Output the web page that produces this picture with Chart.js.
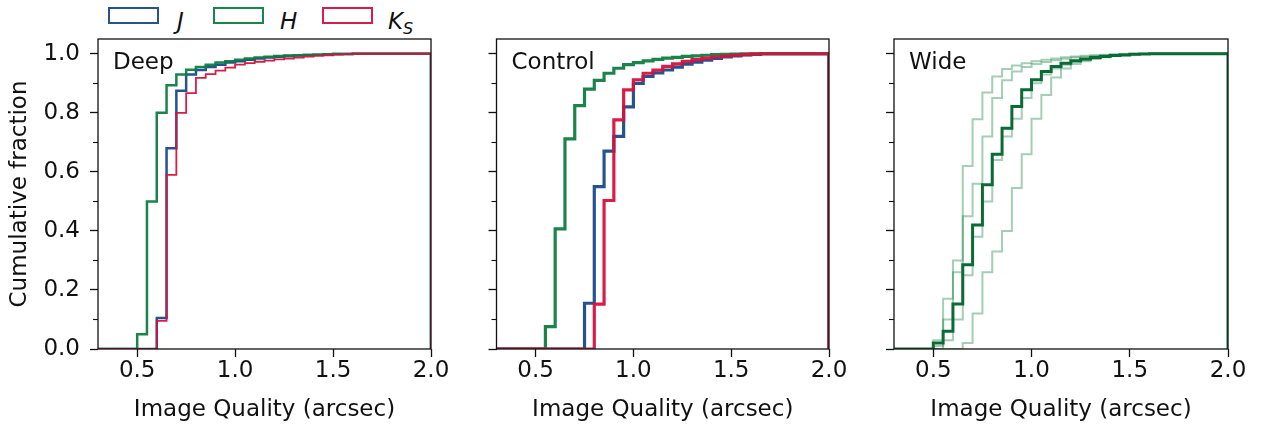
<!DOCTYPE html>
<html><head><meta charset="utf-8">
<script src="https://cdn.jsdelivr.net/npm/chart.js@4.4.0/dist/chart.umd.min.js"></script>
<style>
body{margin:0;width:1261px;height:425px;background:#fff;overflow:hidden;position:relative;font-family:"DejaVu Sans",sans-serif;color:#111}
.panel{position:absolute;top:0;height:425px}
.lbox{position:absolute;top:7px;width:47px;height:13px;border:2.5px solid}
.ltext{position:absolute;top:8px;font-size:23px;font-style:italic;line-height:26px}
.ltext sub{font-size:16px;vertical-align:-5px}
</style></head>
<body>
<div id="legend"></div>
<div class="panel" style="left:0;width:451px"><canvas id="c1" width="451" height="425"></canvas></div>
<div class="panel" style="left:451px;width:398px"><canvas id="c2" width="398" height="425"></canvas></div>
<div class="panel" style="left:849px;width:399px"><canvas id="c3" width="399" height="425"></canvas></div>
<script>
// ---- data ----
const binEdges = [0.30,0.35,0.40,0.45,0.50,0.55,0.60,0.65,0.70,0.75,0.80,0.85,0.90,0.95,1.00,1.05,1.10,1.15,1.20,1.25,1.30,1.35,1.40,1.45,1.50,1.55,1.60,1.65,1.70,1.75,1.80,1.85,1.90,1.95];
const xRange = [0.3, 2.0];
const yRange = [0, 1.05];
const xTicks = [0.5, 1.0, 1.5, 2.0];
const yTicks = [0.0, 0.2, 0.4, 0.6, 0.8, 1.0];
const yMinorTicks = [0.1, 0.3, 0.5, 0.7, 0.9];
const panelNames = ["Deep", "Control", "Wide"];
const xTitle = "Image Quality (arcsec)";
const yTitle = "Cumulative fraction";

const deepJ = [0,0,0,0,0,0,0.105,0.68,0.875,0.93,0.945,0.955,0.963,0.970,0.975,0.980,0.984,0.987,0.990,0.992,0.994,0.996,0.997,0.998,0.999,0.9995,1,1,1,1,1,1,1,1];
const deepH = [0,0,0,0,0.05,0.50,0.80,0.893,0.93,0.946,0.955,0.963,0.970,0.975,0.980,0.984,0.987,0.990,0.992,0.994,0.995,0.996,0.997,0.998,0.999,0.9995,1,1,1,1,1,1,1,1];
const deepK = [0,0,0,0,0,0,0.095,0.59,0.80,0.867,0.918,0.931,0.943,0.953,0.963,0.968,0.973,0.977,0.981,0.984,0.987,0.990,0.993,0.995,0.997,0.999,1,1,1,1,1,1,1,1];

const controlJ = [0,0,0,0,0,0,0,0,0,0.155,0.55,0.67,0.72,0.82,0.90,0.923,0.935,0.945,0.955,0.965,0.972,0.978,0.984,0.989,0.993,0.996,0.998,1,1,1,1,1,1,1];
const controlH = [0,0,0,0,0,0.076,0.407,0.712,0.824,0.88,0.91,0.934,0.951,0.963,0.970,0.976,0.981,0.985,0.988,0.991,0.993,0.995,0.997,0.998,0.999,1,1,1,1,1,1,1,1,1];
const controlK = [0,0,0,0,0,0,0,0,0,0,0.152,0.503,0.776,0.878,0.912,0.934,0.945,0.957,0.966,0.974,0.980,0.985,0.989,0.992,0.995,0.997,0.999,1,1,1,1,1,1,1];

const wideAll = [0,0,0,0,0.02,0.06,0.152,0.285,0.42,0.556,0.66,0.748,0.821,0.878,0.912,0.94,0.957,0.968,0.976,0.982,0.987,0.991,0.994,0.996,0.998,0.999,1,1,1,1,1,1,1,1];
const wideA = [0,0,0,0,0.03,0.17,0.30,0.62,0.778,0.869,0.923,0.948,0.96,0.968,0.975,0.98,0.984,0.988,0.991,0.993,0.995,0.997,0.998,0.999,1,1,1,1,1,1,1,1,1,1];
const wideB = [0,0,0,0,0.01,0.10,0.26,0.45,0.56,0.72,0.85,0.91,0.94,0.955,0.965,0.972,0.978,0.983,0.987,0.99,0.993,0.995,0.997,0.998,0.999,1,1,1,1,1,1,1,1,1];
const wideC = [0,0,0,0,0,0.03,0.10,0.25,0.38,0.50,0.64,0.72,0.78,0.85,0.90,0.93,0.95,0.963,0.972,0.979,0.985,0.99,0.993,0.996,0.998,0.999,1,1,1,1,1,1,1,1];
const wideD = [0,0,0,0,0,0,0,0.02,0.12,0.26,0.33,0.40,0.545,0.66,0.78,0.86,0.92,0.95,0.965,0.975,0.982,0.988,0.992,0.995,0.997,0.999,1,1,1,1,1,1,1,1];

// ---- styles ----
const colJ = "rgba(24,74,138,0.95)";
const colH = "rgba(15,125,64,0.95)";
const colK = "rgba(214,18,62,0.95)";
const colWide = "#0b6b36";
const colWideLight = "rgba(15,125,64,0.38)";
const FONT = "'DejaVu Sans', sans-serif";
const FS = 23;

// ---- legend (HTML) ----
(function(){
  const lg = document.getElementById('legend');
  const items = [[colJ, 108, 177, '<i>J</i>'], [colH, 213, 280, '<i>H</i>'], [colK, 322, 388, '<i>K</i><sub><i>S</i></sub>']];
  items.forEach(([c, bx, tx, html]) => {
    const b = document.createElement('div'); b.className = 'lbox'; b.style.left = bx + 'px'; b.style.borderColor = c; lg.appendChild(b);
    const t = document.createElement('div'); t.className = 'ltext'; t.style.left = tx + 'px'; t.innerHTML = html; lg.appendChild(t);
  });
})();

function stepData(vals){
  const pts = binEdges.map((e,i)=>({x:e, y:vals[i]}));
  pts.push({x:xRange[1], y:vals[vals.length-1]});
  pts.push({x:xRange[1], y:0});
  return pts;
}
function ds(vals, color, width, order){
  return {data: stepData(vals), borderColor: color, borderWidth: width, stepped: 'before', pointRadius: 0, fill: false, order: order, borderJoinStyle: 'miter', borderCapStyle: 'butt'};
}

const framePlugin = {
  id: 'frame',
  afterDatasetsDraw(chart, args, opts){
    const {ctx, chartArea: a, scales} = chart;
    ctx.save();
    ctx.strokeStyle = '#111'; ctx.lineWidth = 1.3;
    ctx.strokeRect(a.left, a.top, a.right - a.left, a.bottom - a.top);
    ctx.lineWidth = 1.1;
    yMinorTicks.forEach(v => {
      const y = Math.round(scales.y.getPixelForValue(v)) + 0.5;
      ctx.beginPath(); ctx.moveTo(a.left - 5, y); ctx.lineTo(a.left, y); ctx.stroke();
    });
    ctx.fillStyle = '#111';
    ctx.font = FS + 'px ' + FONT;
    ctx.textBaseline = 'middle'; ctx.textAlign = 'left';
    ctx.fillText(opts.label, a.left + 15, a.top + 24);
    ctx.restore();
  }
};

function makeChart(id, datasets, label, yAxisWidth, showY){
  return new Chart(document.getElementById(id), {
    type: 'line',
    data: {datasets},
    plugins: [framePlugin],
    options: {
      responsive: false, animation: false, devicePixelRatio: 1,
      layout: {padding: {top: 39, right: 20, left: 0, bottom: 0}},
      plugins: {legend: {display: false}, tooltip: {enabled: false}, frame: {label}},
      scales: {
        x: {
          type: 'linear', min: xRange[0], max: xRange[1],
          afterBuildTicks: s => { s.ticks = xTicks.map(v => ({value: v})); },
          afterFit: s => { s.height = 76; },
          border: {display: false},
          grid: {display: true, drawOnChartArea: false, drawTicks: true, tickLength: 8, tickColor: '#111', tickWidth: 1.3},
          ticks: {font: {family: FONT, size: FS}, color: '#111', padding: 0, maxRotation: 0, autoSkip: false, callback: v => v.toFixed(1)},
          title: {display: true, text: xTitle, font: {family: FONT, size: FS}, color: '#111', padding: {top: 0, bottom: 1}}
        },
        y: {
          type: 'linear', min: yRange[0], max: yRange[1],
          afterBuildTicks: s => { s.ticks = yTicks.map(v => ({value: v})); },
          afterFit: s => { s.width = yAxisWidth; },
          border: {display: false},
          grid: {display: true, drawOnChartArea: false, drawTicks: true, tickLength: 8, tickColor: '#111', tickWidth: 1.3},
          ticks: {font: {family: FONT, size: FS}, color: '#111', padding: 10, autoSkip: false, callback: v => showY ? v.toFixed(1) : ''},
          title: {display: showY, text: yTitle, font: {family: FONT, size: FS}, color: '#111', padding: {top: 6, bottom: 0}}
        }
      }
    }
  });
}

makeChart('c1', [ds(deepJ, colJ, 2.5, 3), ds(deepH, colH, 2.5, 2), ds(deepK, colK, 1.8, 1)], panelNames[0], 98, true);
makeChart('c2', [ds(controlJ, colJ, 3.2, 3), ds(controlH, colH, 3.2, 2), ds(controlK, colK, 3.2, 1)], panelNames[1], 45.5, false);
makeChart('c3', [ds(wideA, colWideLight, 2, 2), ds(wideB, colWideLight, 2, 2), ds(wideC, colWideLight, 2, 2), ds(wideD, colWideLight, 2, 2), ds(wideAll, colWide, 3, 1)], panelNames[2], 45, false);
</script>
</body></html>
